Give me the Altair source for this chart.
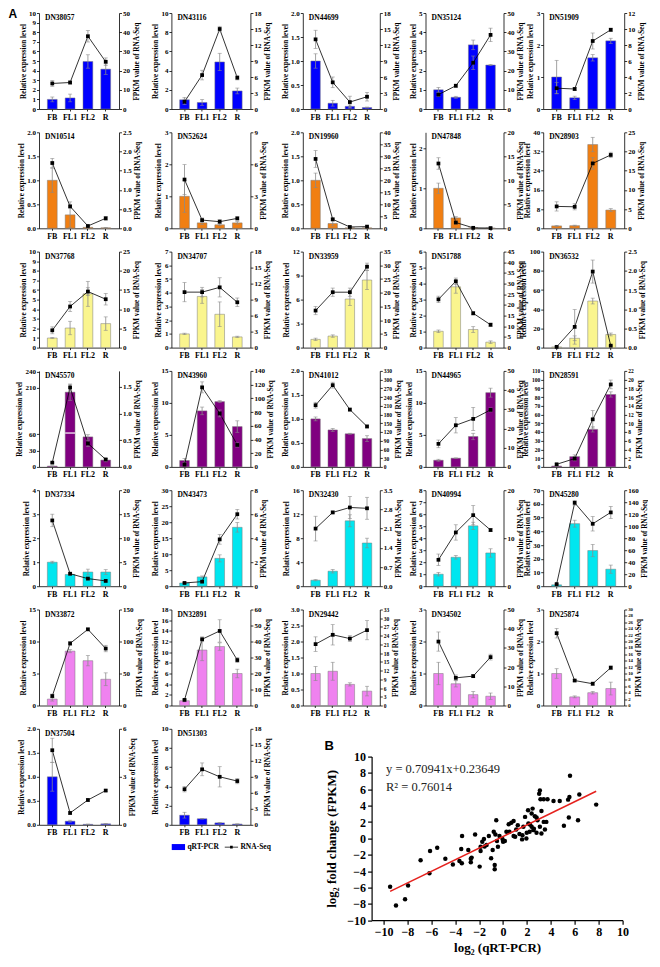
import altair as alt
import numpy as np
import pandas as pd

FONT = "Liberation Serif"
SANS = "Liberation Sans"

STAGES = ["FB", "FL1", "FL2", "R"]

GENES = ["DN38057", "DN43116", "DN44699", "DN35124", "DN51909",
         "DN10514", "DN52624", "DN19960", "DN47848", "DN28903",
         "DN37768", "DN34707", "DN33959", "DN51788", "DN36532",
         "DN45570", "DN43960", "DN41012", "DN44965", "DN28591",
         "DN37334", "DN43473", "DN32430", "DN40994", "DN45280",
         "DN33872", "DN32891", "DN29442", "DN34502", "DN25874",
         "DN37504", "DN51303"]

ROW_COLORS = ["#0000FF", "#F17F12", "#FAF58E", "#800080", "#00E6EF", "#EF82EF", "#0000FF"]

QPCR = [
    [1.0, 1.15, 4.95, 4.15], [0.96, 0.68, 4.9, 1.88], [1.0, 0.12, 0.055, 0.03],
    [1.0, 0.61, 3.34, 2.29], [1.0, 0.35, 1.6, 2.13],
    [1.0, 0.28, 0.02, 0.01], [1.0, 0.17, 0.11, 0.17], [1.0, 0.1, 0.01, 0.01],
    [1.0, 0.26, 0.01, 0.005], [1.0, 1.1, 34.9, 7.6],
    [1.0, 2.04, 5.6, 2.5], [1.0, 3.73, 2.43, 0.78], [1.03, 1.44, 6.07, 8.45],
    [1.02, 3.8, 1.13, 0.34], [0.7, 9.7, 48.5, 13.7],
    [1.5, 202, 55, 12.5], [1.0, 8.75, 10.2, 6.3], [1.0, 0.77, 0.69, 0.59],
    [1.04, 1.36, 4.75, 11.6], [1.0, 11.8, 43, 83],
    [1.0, 0.49, 0.59, 0.59], [1.0, 2.9, 8.7, 18.4], [1.0, 2.5, 10.9, 7.2],
    [1.0, 2.41, 5.03, 2.77], [1.0, 45.6, 26, 12.4],
    [1.0, 8.5, 7.0, 4.1], [0.9, 10.4, 11.05, 6.0], [1.0, 1.07, 0.66, 0.45],
    [1.0, 0.68, 0.34, 0.29], [1.0, 0.27, 0.4, 0.53],
    [1.0, 0.075, 0.01, 0.02], [1.0, 0.63, 0.2, 0.08],
]
QPCR_ERR = [
    [0.25, 0.4, 0.7, 0.55], [0.25, 0.3, 0.9, 0.3], [0.15, 0.06, 0.03, 0.01],
    [0.12, 0.05, 0.25, 0.03], [0.52, 0.05, 0.1, 0.08],
    [0.25, 0.27, 0.01, 0.005], [0.5, 0.05, 0.03, 0.04], [0.15, 0.05, 0.005, 0.005],
    [0.13, 0.03, 0.005, 0.002], [0.2, 0.2, 3.0, 0.6],
    [0.05, 0.7, 1.3, 0.7], [0.05, 0.5, 0.9, 0.05], [0.15, 0.15, 0.8, 1.2],
    [0.08, 0.4, 0.18, 0.08], [0.3, 2.5, 3.0, 1.5],
    [0.5, 15, 4, 3], [0.3, 0.6, 0.15, 0.9], [0.04, 0.03, 0.01, 0.06],
    [0.15, 0.05, 0.5, 0.7], [0.3, 2, 3, 3],
    [0.04, 0.03, 0.12, 0.1], [0.2, 0.3, 1.1, 1.5], [0.1, 0.3, 1.0, 0.8],
    [0.15, 0.15, 0.3, 0.35], [0.3, 2.5, 4.5, 3],
    [0.3, 0.25, 0.8, 1.0], [0.2, 2.0, 0.7, 0.8], [0.22, 0.28, 0.05, 0.15],
    [0.35, 0.1, 0.1, 0.1], [0.15, 0.03, 0.04, 0.2],
    [0.3, 0.02, 0.005, 0.005], [0.3, 0.03, 0.03, 0.01],
]
FPKM = [
    [13.3, 13.8, 37.9, 24.6], [1.35, 6.36, 15.0, 5.86], [13.06, 5.0, 1.3, 2.3],
    [7.5, 12.1, 24.1, 38.6], [2.6, 2.5, 8.5, 9.9],
    [1.70, 0.57, 0.06, 0.26], [4.57, 0.77, 0.62, 0.93], [28.9, 3.75, 0.55, 0.7],
    [13.5, 1.2, 0.1, 0.05], [5.7, 5.6, 16.9, 19.1],
    [4.5, 10.7, 14.6, 12.6], [10.4, 10.4, 11.3, 8.5], [13.5, 20.2, 20.2, 29.5],
    [22.6, 31.1, 16.1, 10.7], [0.02, 0.54, 1.98, 0.05],
    [0.08, 1.49, 0.44, 0.14], [3.4, 116, 78, 32], [212, 281, 197, 139],
    [12.0, 21.7, 25.0, 29.7], [0.6, 1.9, 10.9, 18.9],
    [13.7, 2.6, 1.58, 1.1], [0.27, 0.38, 3.9, 6.0], [2.1, 2.69, 2.87, 2.84],
    [5.5, 11.2, 14.8, 11.7], [3.5, 139, 104, 123],
    [14.8, 97, 119, 89], [3.5, 41.4, 46.6, 28.4], [21.1, 24.3, 23.0, 25.9],
    [33.3, 14.4, 15.3, 25.2], [22.6, 7.8, 6.8, 11.8],
    [4.66, 0.74, 1.55, 2.14], [6.67, 10.4, 9.0, 8.2],
]
FPKM_ERR = [
    [1.5, 0.8, 3.0, 2.0], [0.5, 0.9, 0.5, 0.4], [1.7, 1.0, 1.1, 0.8],
    [1.0, 0.8, 3.5, 3.5], [0.7, 0.2, 1.0, 0.2],
    [0.12, 0.04, 0.02, 0.05], [1.4, 0.2, 0.2, 0.15], [3.5, 0.5, 0.2, 0.2],
    [1.2, 0.3, 0.05, 0.02], [1.2, 0.8, 1.5, 0.7],
    [0.9, 1.3, 1.0, 1.5], [1.8, 0.9, 1.8, 0.8], [1.5, 1.5, 1.5, 1.3],
    [1.5, 1.5, 0.8, 0.8], [0.01, 0.45, 0.3, 0.01],
    [0.01, 0.05, 0.06, 0.02], [1, 8, 5, 3], [10, 10, 5, 5],
    [2, 4, 6, 1], [0.2, 0.5, 2, 1],
    [1.3, 0.2, 0.3, 0.2], [0.05, 0.1, 0.4, 0.4], [0.45, 0.05, 0.4, 0.4],
    [1.2, 1.6, 2.0, 0.3], [1, 4, 12, 10],
    [3, 3, 2, 5], [0.5, 1.5, 7, 1.5], [2.5, 3.5, 1.0, 3.3],
    [5, 1.5, 0.8, 1.5], [1.5, 0.3, 0.5, 0.6],
    [0.75, 0.1, 0.1, 0.05], [0.5, 1.2, 1.9, 0.5],
]
LEFT_MAX = [10, 10, 2, 5, 3, 2, 3, 2, 2.4, 40, 10, 7, 12, 6, 100,
            240, 15, 2, 15, 110, 4, 30, 16, 8, 70, 15, 18, 3, 3, 3, 2, 10]
LEFT_STEP = [1, 2, 0.5, 1, 1, 0.5, 1, 0.5, 1, 8, 1, 1, 3, 1, 20,
             30, 5, 0.5, 5, 10, 1, 5, 4, 1, 10, 5, 2, 0.5, 1, 1, 0.5, 2]
RIGHT_MAX = [50, 18, 18, 50, 12, 2.5, 9, 40, 20, 25, 25, 18, 35, 45, 2.5,
             1.8, 140, 330, 50, 22, 20, 8, 3.5, 20, 160, 150, 60, 33, 50, 30, 6, 18]
RIGHT_STEP = [10, 3, 3, 10, 2, 0.5, 3, 5, 5, 5, 5, 3, 5, 5, 0.5,
              0.5, 20, 30, 10, 2, 5, 2, 0.7, 10, 20, 50, 10, 3, 10, 2, 3, 3]

# broken left axis of DN45570 (values above the break are drawn shifted down)
BROKEN_GENE = "DN45570"
BREAK_SHIFT = 65
BROKEN_TICKS = [0, 30, 60, 145, 175]
BROKEN_DOMAIN_MAX = 176
BREAK_GAP = [61.0, 63.2]

LEGEND_LABELS = ["qRT-PCR", "RNA-Seq"]
LEGEND_COLORS = ["#0000FF", "black"]
RECT_PATH = "M-1,-0.45H1V0.45H-1Z"
LINE_PATH = "M-1,-0.05H1V0.05H-1Z M-0.2,-0.2H0.2V0.2H-0.2Z"

# panel B scatter
SC_X = [-9.45, -8.96, -8.2, -7.95, -6.9, -6.11, -6.16, -5.51, -4.83, -4.2, -3.65, -3.45, -3.43,
        -3.5, -2.91, -2.7, -2.7, -2.34, -1.96, -1.88, -1.74, -1.6, -1.88, -1.38, -1.19, -1.0,
        -0.87, -0.78, -0.7, -0.7, -0.57, -0.64, -0.51, -0.43, -0.3, -0.05, 0.0, 0.28, 0.47, 0.69,
        0.88, 1.1, 1.01, 1.23, 1.37, 1.59, 1.7, 1.84, 1.98, 2.09, 2.25, 2.39, 2.47, 2.53, 2.66,
        2.8, 2.88, 3.02, 3.08, 3.13, 3.21, 3.21, 3.4, 3.4, 4.22, 4.74, 5.09, 5.44, 5.5, 5.55,
        5.6, 6.27, 6.38, 7.79, 2.8, 2.39, 3.08, 0.88, 2.12, 1.62, 1.95, 2.22, 2.58, 3.5, 3.62,
        3.72, 0.15, -2.63, 0.53, -1.55]
SC_Y = [-5.9, -8.2, -7.45, -5.75, -2.67, -1.54, -4.25, -1.14, -2.48, -3.2, -2.76, -3.04, 0.28,
        -1.3, -1.42, -2.48, -2.92, 0.49, -3.45, -1.54, -0.41, -0.08, -1.02, -0.81, 0.28, -2.43,
        -1.42, 0.8, -3.24, -3.77, 2.22, 0.49, -0.33, -1.02, 0.28, -0.08, -0.41, 0.8, 1.74, 1.9,
        2.14, 1.09, 0.19, 1.62, 0.53, -0.12, 1.42, 2.63, 0.69, 3.44, 1.7, 3.04, 3.64, 1.01, 2.71,
        0.69, 2.22, 5.47, 5.87, 4.78, 3.36, 0.61, 2.02, 4.78, 4.57, 4.57, 1.54, 4.74, 2.55, 5.06,
        7.65, 2.22, 5.38, 4.13, 2.55, 1.42, 1.42, 0.28, 1.82, 0.4, 0.0, 0.81, 1.17, 1.09, 2.02,
        4.78, -0.32, -2.35, 0.81, -1.0]
SLOPE = 0.70941
INTERCEPT = 0.23649
R2 = 0.76014

# layout (pixels)
COL_WIDTHS = [80, 79, 77, 78, 81]
PANEL_H = 96
S_LEFT = 52.4       # gap between columns 1-2-3
S_RIGHT = 39.7      # gap between columns 4-5
COL4_OFFSET = 386.5
ROW_PITCH = 119.3
SCATTER_OFFSET_X = 332.6
SCATTER_W = 251
SCATTER_H = 163.6
SCATTER_DROP = 26.8

GREY = "#8a8a8a"


def tick_vals(mx, step):
    n = int(np.floor(mx / step + 1e-6))
    return [round(k * step, 4) for k in range(n + 1)]


def label_size(n):
    if n <= 11:
        return 7
    if n <= 12:
        return 5.5
    return 4.8


def make_panel(i, width):
    gene = GENES[i]
    color = ROW_COLORS[min(i // 5, 6)]
    df = pd.DataFrame({"stage": STAGES, "rel": QPCR[i], "rel_err": QPCR_ERR[i],
                       "fpkm": FPKM[i], "fpkm_err": FPKM_ERR[i]})
    df["rel_lo"] = (df["rel"] - df["rel_err"]).clip(lower=0)
    df["rel_hi"] = df["rel"] + df["rel_err"]
    df["fpkm_lo"] = (df["fpkm"] - df["fpkm_err"]).clip(lower=0)
    df["fpkm_hi"] = df["fpkm"] + df["fpkm_err"]
    broken = gene == BROKEN_GENE
    if broken:
        for c in ["rel", "rel_lo", "rel_hi"]:
            df[c] = df[c].where(df[c] < 100, df[c] - BREAK_SHIFT)

    x = alt.X("stage:N", sort=STAGES,
              scale=alt.Scale(paddingInner=0.45, paddingOuter=0.47),
              axis=alt.Axis(title=None, labelAngle=0, labelFontSize=8, tickSize=2,
                            labelPadding=2))

    if broken:
        lvals = BROKEN_TICKS
        lscale = alt.Scale(domain=[0, BROKEN_DOMAIN_MAX], nice=False, zero=True)
        laxis = alt.Axis(title="Relative expression level", values=lvals, format="d",
                         labelExpr=f"datum.value > 100 ? '' + (datum.value + {BREAK_SHIFT}) : datum.label",
                         labelFontSize=7, orient="left")
    else:
        lvals = tick_vals(LEFT_MAX[i], LEFT_STEP[i])
        lfmt = "d" if float(LEFT_STEP[i]).is_integer() else ".1f"
        lscale = alt.Scale(domain=[0, LEFT_MAX[i]], nice=False, zero=True)
        laxis = alt.Axis(title="Relative expression level", values=lvals, format=lfmt,
                         labelFontSize=label_size(len(lvals)), orient="left")
    rvals = tick_vals(RIGHT_MAX[i], RIGHT_STEP[i])
    rfmt = "d" if float(RIGHT_STEP[i]).is_integer() else ".1f"
    rscale = alt.Scale(domain=[0, RIGHT_MAX[i]], nice=False, zero=True)
    raxis = alt.Axis(title="FPKM value of RNA-Seq", values=rvals, format=rfmt,
                     labelFontSize=label_size(len(rvals)), orient="right", titleAngle=270,
                     titleBaseline="top", titlePadding=2.5)

    base = alt.Chart(df)
    bars = base.mark_bar(color=color, stroke="#7a7a7a", strokeWidth=0.5).encode(
        x=x, y=alt.Y("rel:Q", scale=lscale, axis=laxis))
    berr = base.mark_errorbar(ticks=True, color=GREY, size=4, thickness=0.8).encode(
        x=x, y=alt.Y("rel_lo:Q", scale=lscale, axis=laxis), y2="rel_hi:Q")
    bar_layers = [bars, berr]
    if broken:
        gap = alt.Chart(pd.DataFrame({"stage": ["FL1"]})).mark_bar(color="white").encode(
            x=x, y=alt.YDatum(BREAK_GAP[0], type="quantitative", scale=lscale, axis=laxis),
            y2=alt.Y2Datum(BREAK_GAP[1]))
        bar_layers.append(gap)
    bar_group = alt.layer(*bar_layers)

    line = base.mark_line(color="black", strokeWidth=0.8).encode(
        x=x, y=alt.Y("fpkm:Q", scale=rscale, axis=raxis))
    ferr = base.mark_errorbar(ticks=True, color=GREY, size=4, thickness=0.8).encode(
        x=x, y=alt.Y("fpkm_lo:Q", scale=rscale, axis=raxis), y2="fpkm_hi:Q")
    pts = base.mark_square(size=14, color="black", opacity=1).encode(
        x=x, y=alt.Y("fpkm:Q", scale=rscale, axis=raxis))
    line_layers = [line, ferr, pts]
    if gene == "DN51303":
        leg_def = alt.Legend(orient="bottom", direction="horizontal", title=None,
                             symbolSize=177, symbolOpacity=1, symbolStrokeWidth=0,
                             labelFont=FONT, labelFontWeight="bold", labelFontSize=7.5,
                             labelColor="black", offset=3, columnPadding=5, labelOffset=2,
                             padding=0)
        leg_df = pd.DataFrame({"stage": ["FB", "FB"], "fpkm": [0, 0], "series": LEGEND_LABELS})
        leg = alt.Chart(leg_df).mark_point(filled=True, opacity=0).encode(
            x=x, y=alt.Y("fpkm:Q", scale=rscale, axis=raxis),
            color=alt.Color("series:N", scale=alt.Scale(domain=LEGEND_LABELS, range=LEGEND_COLORS),
                            legend=leg_def, title=None),
            shape=alt.Shape("series:N", scale=alt.Scale(domain=LEGEND_LABELS, range=[RECT_PATH, LINE_PATH]),
                            legend=leg_def, title=None))
        line_layers.append(leg)
    line_group = alt.layer(*line_layers)

    label = alt.Chart(pd.DataFrame({"gene": [gene]})).mark_text(
        align="left", baseline="middle", font=FONT, fontWeight="bold", fontSize=7.5,
        color="black").encode(text="gene:N", x=alt.value(6), y=alt.value(5))

    panel = alt.layer(bar_group, line_group, label).resolve_scale(y="independent").properties(
        width=width, height=PANEL_H)
    if i == 0:
        panel = panel.properties(title=alt.TitleParams(
            "A", anchor="start", frame="group", dx=-30.4, dy=12, offset=0,
            font=SANS, fontSize=12, fontWeight="bold", color="black"))
    return panel


def make_scatter():
    sdf = pd.DataFrame({"qpcr": SC_X, "fpkm": SC_Y})
    xs = alt.Scale(domain=[-11, 10], nice=False, zero=False)
    ys = alt.Scale(domain=[-10, 10], nice=False, zero=False)
    xax = alt.Axis(values=list(range(-10, 11, 2)), title="log₂ (qRT-PCR)", labelFontSize=12,
                   titleFontSize=13, tickSize=4, tickWidth=1.2, domainWidth=1.2, labelPadding=2,
                   titlePadding=4, labelFlush=False)
    yax = alt.Axis(values=list(range(-10, 11, 2)), title="log₂ fold change (FPKM)",
                   labelFontSize=12, titleFontSize=13, tickSize=4, tickWidth=1.2,
                   domainWidth=1.2, labelPadding=2, titlePadding=8)
    pts = alt.Chart(sdf).mark_circle(size=20, color="black", opacity=1).encode(
        x=alt.X("qpcr:Q", scale=xs, axis=xax), y=alt.Y("fpkm:Q", scale=ys, axis=yax))
    fdf = pd.DataFrame({"qpcr": [min(SC_X), max(SC_X)]})
    fdf["fpkm"] = SLOPE * fdf["qpcr"] + INTERCEPT
    fit = alt.Chart(fdf).mark_line(color="#E5211D", strokeWidth=1.5).encode(
        x=alt.X("qpcr:Q", scale=xs, axis=xax), y=alt.Y("fpkm:Q", scale=ys, axis=yax))
    eq = alt.Chart(pd.DataFrame({"t": [f"y = {SLOPE}x+{INTERCEPT}"]})).mark_text(
        align="left", baseline="middle", font=FONT, fontSize=12.5, color="#222222").encode(
        text="t:N", x=alt.value(14.4), y=alt.value(12.2))
    r2 = alt.Chart(pd.DataFrame({"t": [f"R² = {R2}"]})).mark_text(
        align="left", baseline="middle", font=FONT, fontSize=12.5, color="#222222").encode(
        text="t:N", x=alt.value(14.4), y=alt.value(30.4))
    return alt.layer(pts, fit, eq, r2).properties(
        width=SCATTER_W, height=SCATTER_H,
        title=alt.TitleParams("B", anchor="start", frame="group", dx=-47, dy=2, offset=0,
                              font=SANS, fontSize=13, fontWeight="bold", color="black"))


def res(c):
    return c.resolve_scale(color="independent", shape="independent").resolve_legend(
        color="independent", shape="independent")


panels = [make_panel(i, COL_WIDTHS[i % 5]) for i in range(len(GENES))]

rows = []
for r in range(6):
    p = panels[r * 5:(r + 1) * 5]
    left = res(alt.hconcat(p[0], p[1], p[2], spacing=S_LEFT, bounds="flush"))
    right = res(alt.hconcat(p[3], p[4], spacing=S_RIGHT, bounds="flush"))
    rows.append(res(alt.hconcat(left, right, spacing=COL4_OFFSET, bounds="flush")))

spacer = alt.Chart(pd.DataFrame({"s": [0]})).mark_point(opacity=0).properties(width=1, height=1)
last_left = res(alt.hconcat(panels[30], panels[31], spacing=S_LEFT, bounds="flush"))
scatter_col = res(alt.vconcat(spacer, make_scatter(), spacing=SCATTER_DROP, bounds="flush"))
rows.append(res(alt.hconcat(last_left, scatter_col, spacing=SCATTER_OFFSET_X, bounds="flush")))

chart = res(alt.vconcat(*rows, spacing=ROW_PITCH, bounds="flush")).properties(
    padding=0
).configure_view(stroke=None).configure_axis(
    labelFont=FONT, titleFont=FONT, labelFontWeight="bold", titleFontWeight="bold",
    labelColor="black", titleColor="black", domainColor="black", tickColor="black",
    grid=False, labelFontSize=7, titleFontSize=7.2, tickSize=2.5, labelPadding=1,
    titlePadding=1.5, domainWidth=0.8, tickWidth=0.8, labelOverlap=False
)

chart.save("out.html", embed_options={"renderer": "svg", "actions": False})
